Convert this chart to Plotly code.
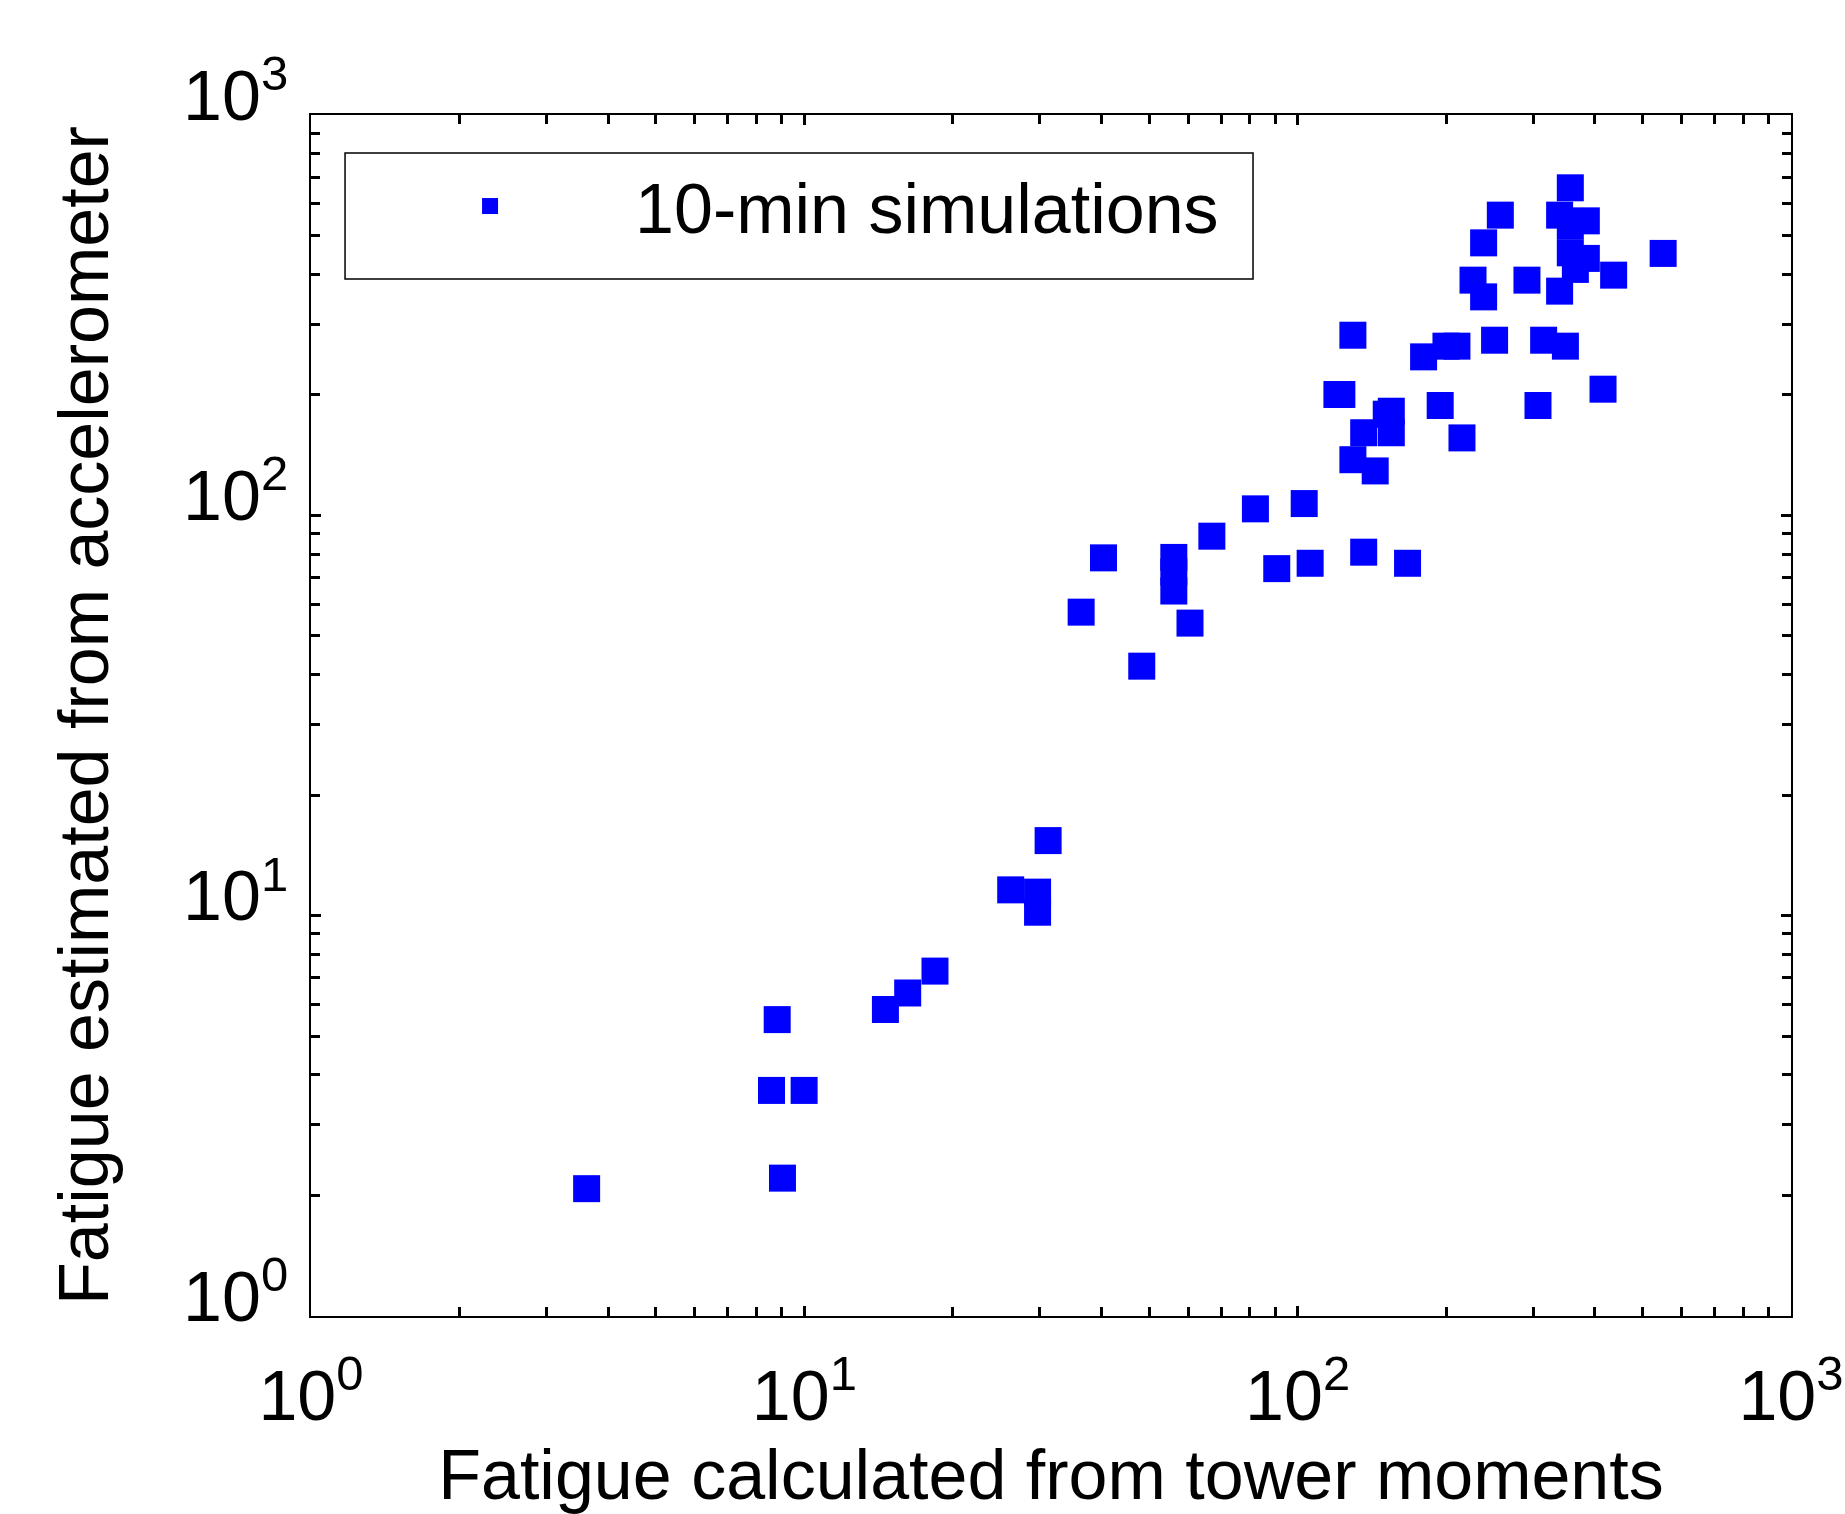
import plotly.graph_objects as go

# Fatigue calculated from tower moments (x) vs estimated from accelerometer (y)
tower_fatigue = [
    3.62, 9.03, 8.58, 9.99, 8.81, 14.6, 16.2, 18.4, 26.2, 29.7,
    29.7, 31.2, 36.4, 40.4, 48.3, 56.1, 56.1, 56.1, 60.5, 67.0,
    82.1, 90.7, 103.1, 106.0, 120.1, 122.9, 129.4, 129.4, 136.1, 136.1,
    143.6, 151.2, 154.8, 154.8, 167.0, 180.0, 199.8, 210.3, 194.5, 215.3,
    226.7, 238.2, 238.2, 250.7, 257.5, 291.6, 307.0, 315.2, 339.6, 357.0,
    384.7, 357.0, 339.6, 348.9, 357.0, 384.7, 365.5, 437.0, 415.9, 550.6,
]
accel_fatigue = [
    2.08, 2.21, 3.66, 3.66, 5.50, 5.83, 6.41, 7.27, 11.6, 11.45,
    10.2, 15.4, 57.3, 78.3, 42.0, 78.5, 72.2, 64.7, 53.8, 88.7,
    103.8, 73.6, 107.0, 75.9, 200.4, 200.4, 281.8, 137.7, 80.9, 160.8,
    129.1, 178.9, 182.0, 160.8, 75.9, 248.8, 264.6, 264.6, 188.1, 156.1,
    386.8, 351.3, 479.3, 273.8, 562.2, 386.8, 188.1, 273.8, 562.2, 657.9,
    544.0, 527.8, 363.1, 264.6, 452.7, 438.3, 411.4, 398.1, 206.6, 451.1,
]
series_name = "10-min simulations"

major_vals = [1, 10, 100, 1000]
major_text = ["10<sup>0</sup>", "10<sup>1</sup>", "10<sup>2</sup>", "10<sup>3</sup>"]
minor_vals = [m * d for d in (1, 10, 100) for m in range(2, 10)]

FONT = "Liberation Sans, Arial, Helvetica, sans-serif"
FS = 70

fig = go.Figure()
fig.add_trace(go.Scatter(
    x=tower_fatigue, y=accel_fatigue, mode="markers", name=series_name,
    marker=dict(symbol="square", size=27, color="#0000ff", line=dict(width=0)),
))

axis_common = dict(
    type="log", range=[0, 3], automargin=False,
    tickmode="array", tickvals=major_vals, ticktext=major_text,
    ticks="inside", ticklen=10, tickwidth=3, tickcolor="black",
    minor=dict(tickvals=minor_vals, ticks="inside", ticklen=9, tickwidth=3,
               tickcolor="black", showgrid=False),
    showline=True, linecolor="black", linewidth=1.5, mirror="allticks",
    showgrid=False, zeroline=False,
    tickfont=dict(family=FONT, size=FS, color="black"),
)

fig.update_layout(
    width=1845, height=1514, autosize=False,
    margin=dict(l=311, r=54, t=115, b=198, pad=0),
    paper_bgcolor="white", plot_bgcolor="white",
    font=dict(family=FONT, size=FS, color="black"),
    xaxis=dict(axis_common, ticklabelstandoff=18,
               title=dict(text="Fatigue calculated from tower moments",
                          font=dict(family=FONT, size=FS), standoff=60)),
    yaxis=dict(axis_common, ticklabelstandoff=7, ticklabelshift=-20,
               title=dict(text="Fatigue estimated from accelerometer",
                          font=dict(family=FONT, size=FS), standoff=52)),
    showlegend=True,
    legend=dict(x=0.023, y=0.9675, xanchor="left", yanchor="top",
                bgcolor="rgba(0,0,0,0)", borderwidth=0, itemwidth=280,
                font=dict(family=FONT, size=FS, color="black")),
    shapes=[dict(type="rect", xref="paper", yref="paper",
                 x0=0.023, x1=0.6365, y0=0.8635, y1=0.9684,
                 line=dict(color="black", width=1.5), fillcolor="rgba(0,0,0,0)")],
)

fig.write_html("out.html", config={"displayModeBar": False},
               post_script="document.body.style.margin='0';")
